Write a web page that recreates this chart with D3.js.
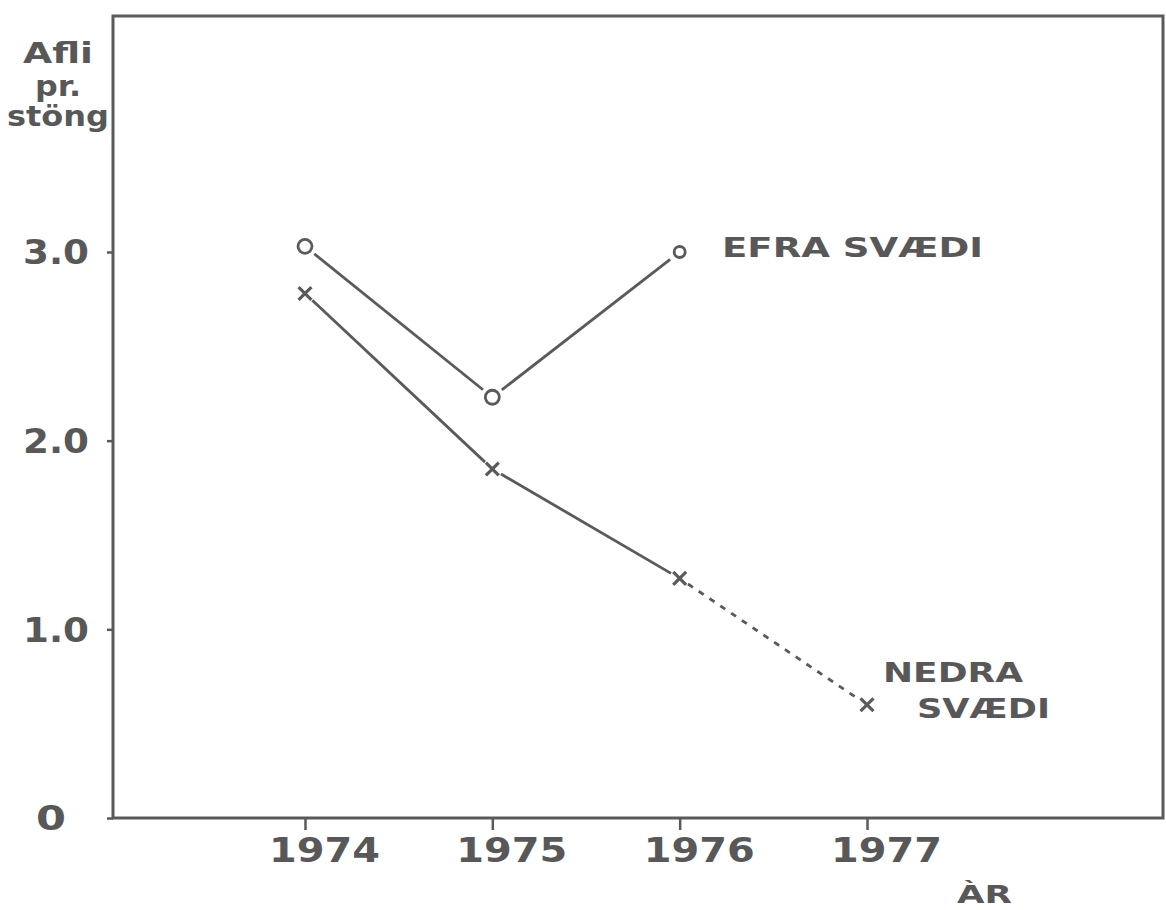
<!DOCTYPE html>
<html>
<head>
<meta charset="utf-8">
<script src="https://cdn.jsdelivr.net/npm/d3@7"></script>
<style>
  body { margin: 0; background: #fff; }
  text { font-family: "DejaVu Sans", sans-serif; font-weight: bold; fill: #585858; }
</style>
</head>
<body>
<div id="chart"></div>
<script>
// data
var years = [1974, 1975, 1976, 1977];
var efraYears = [1974, 1975, 1976];
var efraValues = [3.03, 2.23, 3.0];
var nedraYears = [1974, 1975, 1976, 1977];
var nedraValues = [2.78, 1.85, 1.27, 0.6];
var yTicks = [0, 1, 2, 3];

var width = 1166, height = 910;
var ink = "#5a5a5a";

var svg = d3.select("#chart").append("svg")
    .attr("width", width)
    .attr("height", height);

var x = d3.scaleLinear().domain([1974, 1977]).range([305, 867]);
var y = d3.scaleLinear().domain([0, 3]).range([818, 252]);

// frame
svg.append("rect")
    .attr("x", 113).attr("y", 16)
    .attr("width", 1163 - 113).attr("height", y(0) - 16)
    .attr("fill", "none").attr("stroke", ink).attr("stroke-width", 3);

// y axis
var yAxis = d3.axisLeft(y).tickValues(yTicks)
    .tickSize(6).tickPadding(18)
    .tickFormat(function(d) { return d === 0 ? "0" : d3.format(".1f")(d); });
var gy = svg.append("g").attr("transform", "translate(113,0)").call(yAxis);
gy.select(".domain").remove();
gy.selectAll("line").attr("stroke", ink).attr("stroke-width", 2.5);
gy.selectAll("text")
    .style("font-size", "33px")
    .attr("fill", ink).attr("dy", "0.36em")
    .attr("textLength", function(d) { return d === 0 ? 30 : 66; })
    .attr("lengthAdjust", "spacingAndGlyphs");
gy.selectAll(".tick").filter(function(d) { return d === 0; })
    .select("text").attr("x", -47);

// x axis
var xAxis = d3.axisBottom(x).tickValues(years)
    .tickSize(12).tickFormat(d3.format("d"));
var gx = svg.append("g").attr("transform", "translate(0," + y(0) + ")").call(xAxis);
gx.select(".domain").remove();
gx.selectAll("line").attr("stroke", ink).attr("stroke-width", 2.5);
gx.selectAll("text")
    .style("font-size", "34px")
    .attr("fill", ink).attr("y", 20).attr("dy", "0.71em").attr("dx", 19)
    .attr("textLength", 111).attr("lengthAdjust", "spacingAndGlyphs");

// axis titles
svg.append("text").attr("x", 957).attr("y", 903)
    .style("font-size", "25px")
    .attr("textLength", 55).attr("lengthAdjust", "spacingAndGlyphs")
    .text("ÀR");

var ylab = ["Afli", "pr.", "stöng"];
var ylabBase = [63, 96, 126];
var ylabLen = [70, 46, 102];
svg.selectAll(".ylab").data(ylab).enter().append("text")
    .attr("class", "ylab")
    .attr("x", 58)
    .attr("y", function(d, i) { return ylabBase[i]; })
    .attr("text-anchor", "middle")
    .style("font-size", "28px")
    .attr("textLength", function(d, i) { return ylabLen[i]; })
    .attr("lengthAdjust", "spacingAndGlyphs")
    .text(function(d) { return d; });

// helper to draw a segment that stops short of the markers
function segment(x0, y0, x1, y1, gap, dashed) {
  var dx = x1 - x0, dy = y1 - y0, len = Math.sqrt(dx * dx + dy * dy);
  var ux = dx / len, uy = dy / len;
  svg.append("line")
      .attr("x1", x0 + ux * gap).attr("y1", y0 + uy * gap)
      .attr("x2", x1 - ux * gap).attr("y2", y1 - uy * gap)
      .attr("stroke", ink).attr("stroke-width", 2.8)
      .attr("stroke-dasharray", dashed ? "6,7" : null);
}

// EFRA SVÆDI
for (var i = 0; i < efraYears.length - 1; i++) {
  segment(x(efraYears[i]), y(efraValues[i]), x(efraYears[i + 1]), y(efraValues[i + 1]), 12, false);
}
svg.selectAll(".efra").data(efraYears).enter().append("circle")
    .attr("class", "efra")
    .attr("cx", function(d) { return x(d); })
    .attr("cy", function(d, i) { return y(efraValues[i]); })
    .attr("r", function(d, i) { return i === 2 ? 5.5 : 7; })
    .attr("fill", "none").attr("stroke", ink).attr("stroke-width", 2.8);

// NEDRA SVÆDI
for (var j = 0; j < nedraYears.length - 1; j++) {
  segment(x(nedraYears[j]), y(nedraValues[j]), x(nedraYears[j + 1]), y(nedraValues[j + 1]), 10, j === 2);
}
var cross = d3.symbol().type(d3.symbolX).size(110);
svg.selectAll(".nedra").data(nedraYears).enter().append("path")
    .attr("class", "nedra")
    .attr("d", cross)
    .attr("transform", function(d, i) { return "translate(" + x(d) + "," + y(nedraValues[i]) + ")"; })
    .attr("fill", "none").attr("stroke", ink).attr("stroke-width", 3.2);

// series labels
function label(txt, lx, ly, len) {
  svg.append("text").attr("x", lx).attr("y", ly)
      .style("font-size", "27px")
      .attr("textLength", len).attr("lengthAdjust", "spacingAndGlyphs")
      .text(txt);
}
label("EFRA SVÆDI", 722, 257, 261);
label("NEDRA", 883, 682, 140);
label("SVÆDI", 917, 718, 133);
</script>
</body>
</html>
